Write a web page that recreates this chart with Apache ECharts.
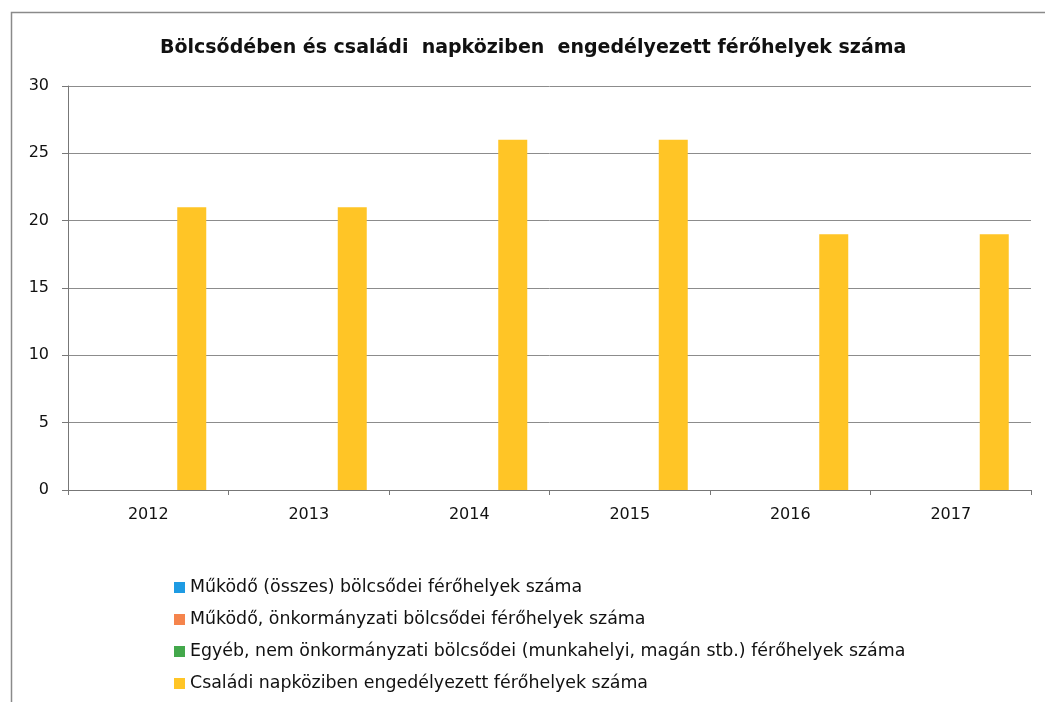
<!DOCTYPE html>
<html><head><meta charset="utf-8">
<script src="https://cdn.jsdelivr.net/npm/echarts@6/dist/echarts.min.js"></script>
<style>html,body{margin:0;padding:0;background:#fff}#c{width:1045px;height:702px}</style>
</head><body><div id="c"></div>
<script>
const years = ['2012','2013','2014','2015','2016','2017'];
const seriesNames = [
  'Működő (összes) bölcsődei férőhelyek száma',
  'Működő, önkormányzati bölcsődei férőhelyek száma',
  'Egyéb, nem önkormányzati bölcsődei (munkahelyi, magán stb.) férőhelyek száma',
  'Családi napköziben engedélyezett férőhelyek száma'
];
const mukodoOsszes = [0,0,0,0,0,0];
const mukodoOnkorm = [0,0,0,0,0,0];
const egyeb = [0,0,0,0,0,0];
const csaladi = [21,21,26,26,19,19];
const colors = ['#1e9be3','#f5844c','#43a84b','#ffc526'];
const yTicks = {min:0, max:30, interval:5};

const font = '"DejaVu Sans", "Liberation Sans", Arial, sans-serif';
const chart = echarts.init(document.getElementById('c'), null, {renderer:'canvas'});
const data = [mukodoOsszes, mukodoOnkorm, egyeb, csaladi];
chart.setOption({
  animation:false,
  color: colors,
  graphic:[{type:'rect', shape:{x:11.5,y:12.5,width:1100,height:800}, style:{fill:'none',stroke:'#8a8a8a',lineWidth:1.5}, silent:true}],
  title:{text:'Bölcsődében és családi  napköziben  engedélyezett férőhelyek száma', left:155, top:34,
    textStyle:{fontFamily:font, fontSize:19, fontWeight:'bold', color:'#111'}},
  legend:{orient:'vertical', left:169, top:574, itemWidth:11, itemHeight:11, itemGap:15, icon:'rect',
    textStyle:{fontFamily:font, fontSize:17.4, color:'#111'}, data: seriesNames},
  grid:{left:68, right:14, top:86, bottom:212, containLabel:false},
  xAxis:{type:'category', data:years, boundaryGap:true,
    axisLine:{lineStyle:{color:'#777', width:1}},
    axisTick:{show:true, length:5, lineStyle:{color:'#777'}},
    axisLabel:{fontFamily:font, fontSize:16, color:'#111', margin:17}},
  yAxis:{type:'value', min:yTicks.min, max:yTicks.max, interval:yTicks.interval,
    axisLine:{show:true, lineStyle:{color:'#777'}},
    axisTick:{show:true, length:6, inside:false, lineStyle:{color:'#777'}},
    splitLine:{lineStyle:{color:'#8c8c8c', width:1}},
    axisLabel:{fontFamily:font, fontSize:16, color:'#111', margin:19}},
  series: seriesNames.map((n,i)=>({name:n, type:'bar', data:data[i], barWidth:29, barGap:'0%',
    itemStyle:{color:colors[i]}}))
});
</script></body></html>
